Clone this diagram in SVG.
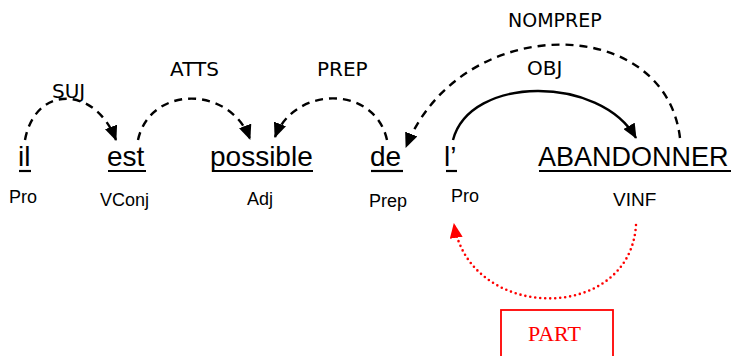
<svg xmlns="http://www.w3.org/2000/svg" width="734" height="356" viewBox="0 0 734 356">
  <style>
    .word { font-family: "Liberation Sans", Arial, sans-serif; font-size: 28px; fill: #000; }
    .word.long { font-size: 27px; }
    .tag { font-family: "Liberation Sans", Arial, sans-serif; font-size: 18px; fill: #000; }
    .tag.wide { font-size: 19px; }
    .rel { font-family: "DejaVu Sans", Verdana, sans-serif; font-size: 20px; fill: #000; }
    .rel.small { font-size: 19px; }
    .uline { stroke: #000; stroke-width: 2.2; }
    .dep { fill: none; stroke: #000; stroke-width: 2.4; }
    .dashed { stroke-dasharray: 8 6; }
    .part { fill: none; stroke: #ff0000; stroke-width: 2.6; stroke-linecap: round; stroke-dasharray: 0 5; }
    .partbox { fill: #fff; stroke: #ff0000; stroke-width: 1.8; }
    .parttxt { font-family: "Liberation Serif", "Times New Roman", serif; font-size: 22px; fill: #ff0000; }
  </style>
  <defs>
    <marker id="arrow" viewBox="0 0 15 13" refX="14" refY="6.5" markerWidth="15" markerHeight="13" markerUnits="userSpaceOnUse" orient="auto">
      <path d="M0,0 L15,6.5 L0,13 z" fill="#000"/>
    </marker>
    <marker id="arrow-red" viewBox="0 0 15 13" refX="14" refY="6.5" markerWidth="15" markerHeight="13" markerUnits="userSpaceOnUse" orient="auto">
      <path d="M0,0 L15,6.5 L0,13 z" fill="#ff0000"/>
    </marker>
  </defs>

  <!-- dependency arcs -->
  <g id="connectors">
    <path class="dep dashed" d="M25,140 C35,85 95,85 116,140" marker-end="url(#arrow)"/>
    <path class="dep dashed" d="M138,140 C150,85 230,85 250,139" marker-end="url(#arrow)"/>
    <path class="dep dashed" d="M387,140 C375,85 295,85 275,137" marker-end="url(#arrow)"/>
    <path class="dep dashed" d="M680,138 C665,12 460,12 406,147" marker-end="url(#arrow)"/>
    <path class="dep" d="M453,140 C470,75 600,75 636,138" marker-end="url(#arrow)"/>
    <path class="part" d="M636,225 C630,323 470,323 454,224" marker-end="url(#arrow-red)"/>
    <text class="rel" x="52" y="98">SUJ</text>
    <text class="rel" x="170" y="76">ATTS</text>
    <text class="rel" x="317" y="76">PREP</text>
    <text class="rel small" x="508" y="27">NOMPREP</text>
    <text class="rel" x="527" y="75">OBJ</text>
  </g>

  <!-- tokens -->
  <g id="w-il">
    <text class="word" x="18" y="166">il</text>
    <line class="uline" x1="19" y1="171" x2="31" y2="171"/>
    <text class="tag" x="9" y="203">Pro</text>
  </g>
  <g id="w-est">
    <text class="word" x="107" y="166">est</text>
    <line class="uline" x1="108" y1="171" x2="146" y2="171"/>
    <text class="tag" x="100" y="206">VConj</text>
  </g>
  <g id="w-possible">
    <text class="word" x="210" y="166">possible</text>
    <line class="uline" x1="212" y1="171" x2="313" y2="171"/>
    <text class="tag" x="247" y="205">Adj</text>
  </g>
  <g id="w-de">
    <text class="word" x="370" y="166">de</text>
    <line class="uline" x1="371" y1="171" x2="403" y2="171"/>
    <text class="tag" x="369" y="207">Prep</text>
  </g>
  <g id="w-l">
    <text class="word" x="444" y="166">l’</text>
    <line class="uline" x1="446" y1="171" x2="457" y2="171"/>
    <text class="tag" x="451" y="202">Pro</text>
  </g>
  <g id="w-abandonner">
    <text class="word long" x="538" y="166">ABANDONNER</text>
    <line class="uline" x1="539" y1="171" x2="731" y2="171"/>
    <text class="tag wide" x="613" y="206">VINF</text>
  </g>

  <!-- PART label box -->
  <g id="part">
    <rect class="partbox" x="501" y="310" width="112" height="60"/>
    <text class="parttxt" x="528" y="341">PART</text>
  </g>
</svg>
